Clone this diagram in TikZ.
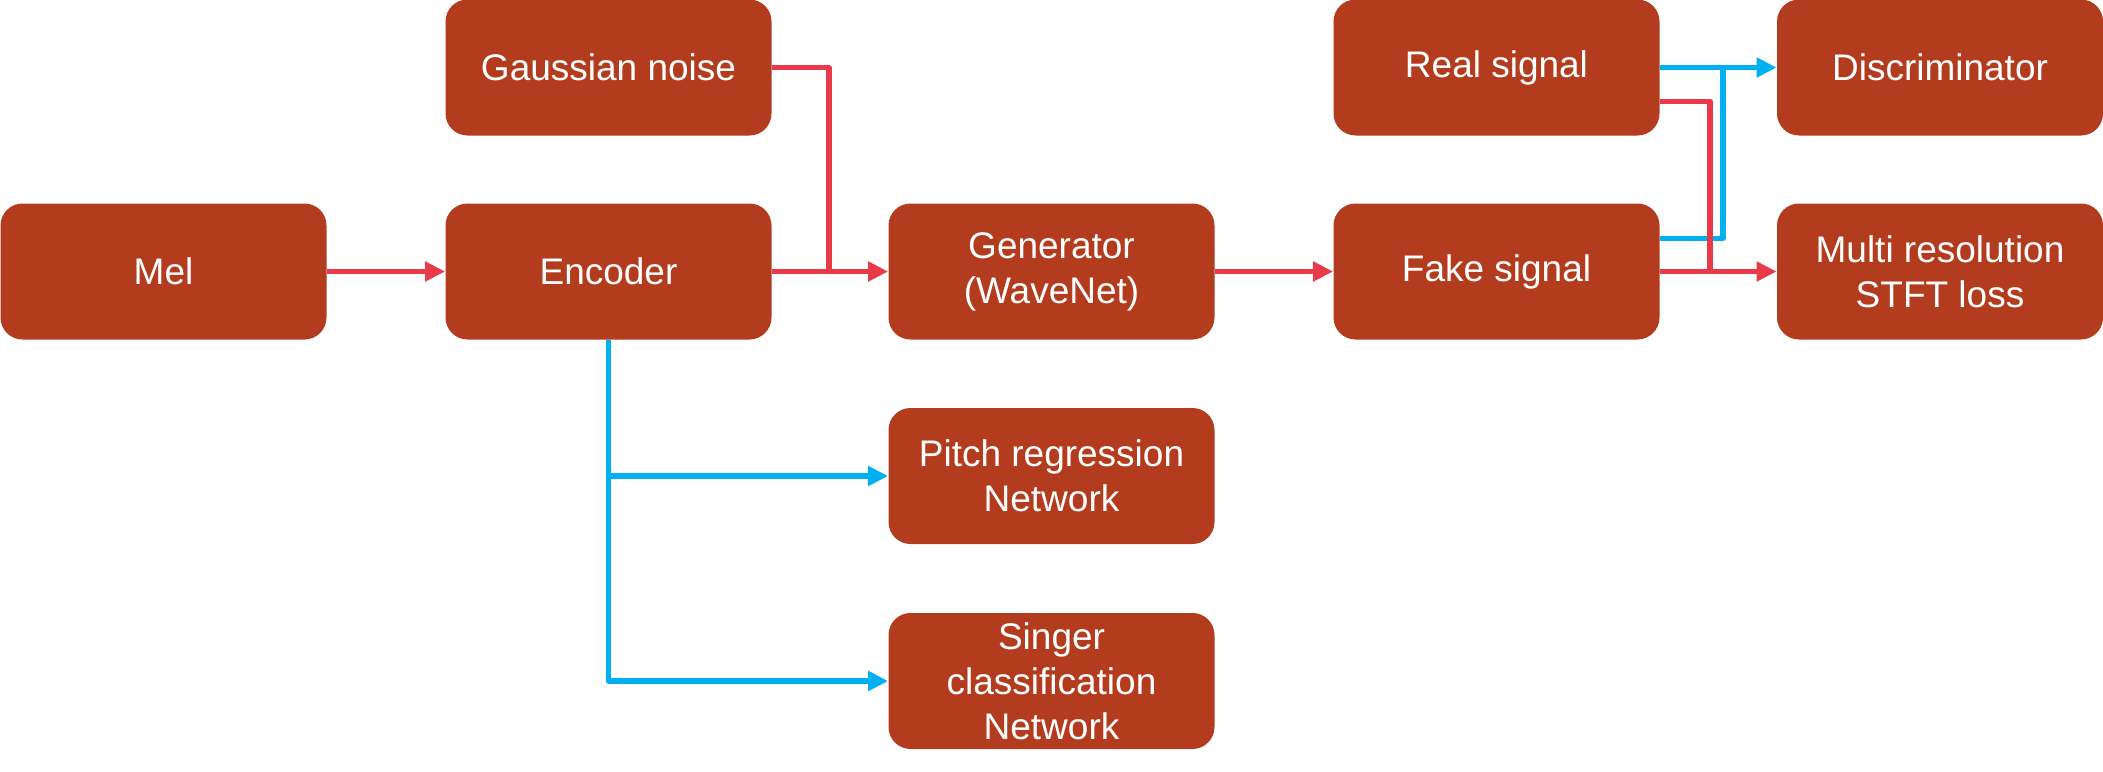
\documentclass[tikz,border=0pt]{standalone}
\usepackage{fontspec}
\setmainfont{Liberation Sans}
\usetikzlibrary{arrows.meta}
\definecolor{boxfill}{RGB}{180,60,30}
\definecolor{redline}{RGB}{232,58,72}
\definecolor{blueline}{RGB}{0,176,240}
\begin{document}
\begin{tikzpicture}[x=0.5pt,y=-0.5pt,
  blk/.style={draw=none,fill=boxfill,rounded corners=11pt,minimum width=163pt,minimum height=68pt,
    inner sep=0pt,align=center,text=white,font=\fontsize{18.5pt}{22.5pt}\selectfont},
  rline/.style={draw=redline,line width=2.8pt,line join=round},
  bline/.style={draw=blueline,line width=2.8pt,line join=round},
  tip/.style={-{Triangle[length=10pt,width=9.5pt]}}]
\useasboundingbox (0,0) rectangle (2103,771);
\node[blk] (mel) at (163.5,271.5) {Mel};
\node[blk] (enc) at (608.5,271.5) {Encoder};
\node[blk] (gau) at (608.5,67.5) {Gaussian noise};
\node[blk] (gen) at (1051.5,271.5) {Generator\\(WaveNet)};
\node[blk] (fake) at (1496.5,271.5) {Fake signal};
\node[blk] (real) at (1496.5,67.5) {Real signal};
\node[blk] (disc) at (1940,67.5) {Discriminator};
\node[blk] (stft) at (1940,271.5) {Multi resolution\\STFT loss};
\node[blk] (pitch) at (1051.5,476) {Pitch regression\\Network};
\node[blk] (sing) at (1051.5,681) {Singer\\classification\\Network};
\coordinate (gj) at (829,272);
\coordinate (bj) at (608.5,476);
\coordinate (rj) at (1710,272);
\coordinate (fj) at (1723,68);
% blue
\draw[bline,tip] (enc.south) |- (sing.west);
\draw[bline,tip] (bj) -- (pitch.west);
\draw[bline,tip] (real.east) -- (disc.west);
\draw[bline] ([yshift=16.5pt]fake.east) -| (fj);
% red
\draw[rline,tip] (mel.east) -- (enc.west);
\draw[rline,tip] (enc.east) -- (gen.west);
\draw[rline] (gau.east) -| (gj);
\draw[rline,tip] (gen.east) -- (fake.west);
\draw[rline] ([yshift=-17pt]real.east) -| (rj);
\draw[rline,tip] (fake.east) -- (stft.west);
\end{tikzpicture}
\end{document}
